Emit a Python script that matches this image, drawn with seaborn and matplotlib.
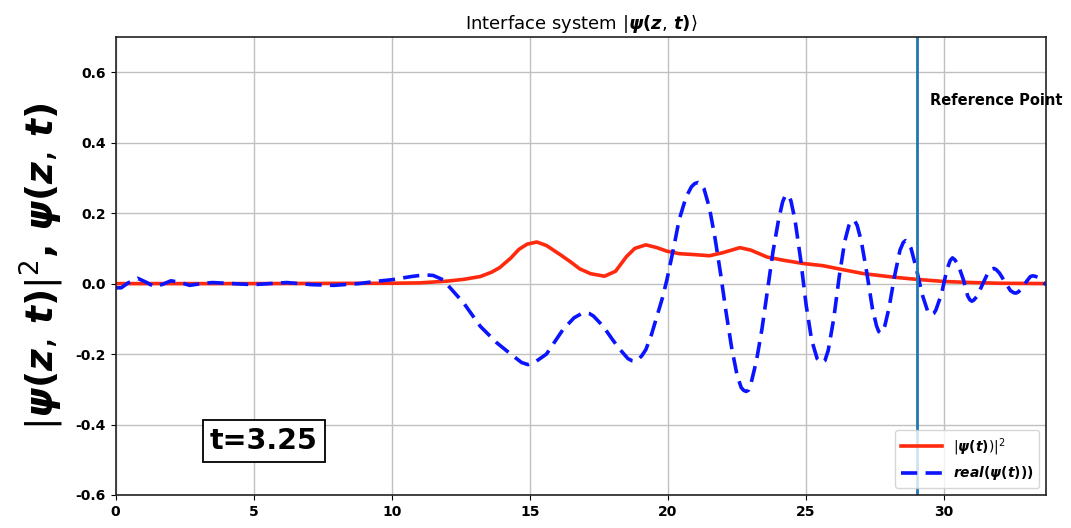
import numpy as np
import pandas as pd
import matplotlib
matplotlib.use("Agg")
import matplotlib.pyplot as plt
import seaborn as sns

# |psi(z,t)|^2 sampled along z
z_prob = [0, 5, 10, 11, 12.0, 12.6, 13.2, 13.6, 13.9, 14.3, 14.6, 14.9, 15.25,
          15.6, 16.1, 16.5, 16.8, 17.2, 17.7, 18.1, 18.5, 18.8, 19.2, 19.6,
          19.96, 20.4, 21.0, 21.5, 22.0, 22.6, 23.0, 23.6, 24.2, 24.9, 25.6,
          26.3, 27.1, 28.2, 29.0, 30.0, 31.0, 32.0, 33.7]
prob = [0, 0, 0.001, 0.002, 0.007, 0.012, 0.02, 0.032, 0.045, 0.072, 0.097,
        0.112, 0.118, 0.108, 0.082, 0.06, 0.042, 0.028, 0.021, 0.035, 0.077,
        0.1, 0.11, 0.102, 0.092, 0.085, 0.082, 0.079, 0.088, 0.102, 0.095,
        0.075, 0.066, 0.057, 0.051, 0.04, 0.028, 0.018, 0.012, 0.006, 0.003,
        0.001, 0.0]

# real part of psi(z,t)
z_real = [0.0, 0.2, 0.45, 0.8, 1.1, 1.41, 1.7, 2.0, 2.35, 2.68, 3.1, 3.5, 4.25,
          4.97, 5.6, 6.2, 7.1, 7.9, 8.8, 9.5, 10.0, 10.7, 11.2, 11.5, 11.85,
          12.2, 12.6, 13.2, 13.8, 14.4, 14.7, 14.93, 15.2, 15.6, 15.9, 16.2,
          16.6, 16.85, 17.0, 17.15, 17.3, 17.65, 18.0, 18.26, 18.55, 18.7,
          18.8, 18.9, 19.05, 19.2, 19.4, 19.6, 19.8, 19.96, 20.2, 20.4, 20.65,
          20.85, 20.97, 21.09, 21.2, 21.3, 21.5, 21.7, 21.9, 22.1, 22.3, 22.5,
          22.65, 22.74, 22.83, 22.92, 23.0, 23.2, 23.4, 23.6, 23.8, 24.0,
          24.15, 24.23, 24.3, 24.38, 24.45, 24.6, 24.8, 25.0, 25.2, 25.4,
          25.52, 25.6, 25.68, 25.8, 26.0, 26.2, 26.4, 26.55, 26.63, 26.7,
          26.77, 26.85, 27.0, 27.2, 27.4, 27.55, 27.63, 27.7, 27.77, 27.85,
          28.0, 28.2, 28.4, 28.52, 28.6, 28.68, 28.8, 29.0, 29.2, 29.4, 29.48,
          29.55, 29.62, 29.7, 29.9, 30.1, 30.22, 30.3, 30.38, 30.5, 30.7,
          30.85, 30.93, 31.0, 31.07, 31.2, 31.4, 31.6, 31.72, 31.8, 31.88,
          32.0, 32.2, 32.4, 32.52, 32.6, 32.68, 32.8, 33.0, 33.12, 33.2, 33.28,
          33.4, 33.55, 33.7]
real = [-0.012, -0.012, 0.002, 0.015, 0.004, -0.009, -0.002, 0.008, 0.003,
        -0.005, 0.0, 0.003, 0.0, -0.003, 0.0, 0.003, -0.003, -0.005, 0.0, 0.007,
        0.011, 0.02, 0.025, 0.023, 0.011, -0.02, -0.055, -0.121, -0.168, -0.206,
        -0.224, -0.23, -0.222, -0.2, -0.165, -0.13, -0.097, -0.086, -0.083,
        -0.085, -0.092, -0.121, -0.16, -0.187, -0.213, -0.219, -0.22, -0.217,
        -0.205, -0.187, -0.145, -0.093, -0.04, 0.011, 0.1, 0.18, 0.245, 0.275,
        0.284, 0.287, 0.283, 0.27, 0.215, 0.13, 0.03, -0.08, -0.18, -0.26,
        -0.295, -0.303, -0.306, -0.302, -0.285, -0.22, -0.13, -0.02, 0.09,
        0.18, 0.232, 0.247, 0.252, 0.248, 0.235, 0.18, 0.07, -0.06, -0.16,
        -0.213, -0.222, -0.224, -0.219, -0.19, -0.1, 0.02, 0.12, 0.165, 0.176,
        0.18, 0.177, 0.165, 0.12, 0.03, -0.07, -0.12, -0.136, -0.14, -0.136,
        -0.12, -0.07, 0.02, 0.095, 0.117, 0.122, 0.118, 0.1, 0.04, -0.03,
        -0.078, -0.086, -0.088, -0.085, -0.075, -0.03, 0.04, 0.066, 0.073,
        0.068, 0.055, 0.01, -0.035, -0.046, -0.05, -0.047, -0.035, 0.0, 0.033,
        0.041, 0.043, 0.04, 0.03, 0.005, -0.02, -0.026, -0.027, -0.024, -0.015,
        0.008, 0.02, 0.022, 0.021, 0.018, 0.005, -0.003]

ref_point = 29.0
time_label = "t=3.25"
x_ticks = [0, 5, 10, 15, 20, 25, 30]
y_ticks = [-0.6, -0.4, -0.2, 0.0, 0.2, 0.4, 0.6]

df_prob = pd.DataFrame({"z": z_prob, "val": prob})
df_real = pd.DataFrame({"z": z_real, "val": real})

fig = plt.figure(figsize=(10.71, 5.28), dpi=100)
ax = fig.add_axes([0.108, 0.0625, 0.869, 0.8675])

sns.lineplot(data=df_prob, x="z", y="val", ax=ax, color="#ff2a0e", lw=2.6,
             label=r"$|\boldsymbol{\psi(t)})|^2$")
sns.lineplot(data=df_real, x="z", y="val", ax=ax, color="#0a14ff", lw=2.6,
             linestyle=(0, (4.5, 2.3)), label=r"$\boldsymbol{real(\psi(t)))}$")

ax.axvline(ref_point, color="#1f77b4", lw=2)
ax.text(ref_point + 0.5, 0.52, "Reference Point", fontsize=10.5,
        fontweight="bold", va="center", ha="left", clip_on=False)
ax.text(5.36, -0.447, time_label, fontsize=20.5, fontweight="bold",
        ha="center", va="center",
        bbox=dict(boxstyle="square,pad=0.25", facecolor="white",
                  edgecolor="black", lw=1.3))

ax.set_xlim(0, 33.7)
ax.set_ylim(-0.6, 0.7)
ax.set_xticks(x_ticks)
ax.set_yticks(y_ticks)
ax.set_xticklabels([str(t) for t in x_ticks], fontweight="bold", fontsize=10)
ax.set_yticklabels([f"{t:.1f}" for t in y_ticks], fontweight="bold", fontsize=10)
ax.grid(True, color="#c0c0c0", lw=1)
ax.set_axisbelow(True)
for s in ax.spines.values():
    s.set_linewidth(1.2)
    s.set_color("#222222")

ax.set_xlabel("")
ax.set_ylabel(r"$|\boldsymbol{\psi(z,\,t)}|^2$, $\boldsymbol{\psi(z,\,t)}$",
              fontsize=27, fontweight="bold", labelpad=7)
ax.set_title(r"Interface system $|\boldsymbol{\psi(z,\,t)}\rangle$",
             fontsize=13, pad=6)

leg = ax.legend(loc="lower right", fontsize=10, handlelength=3,
                framealpha=0.8)

fig.savefig("out.png", dpi=100)
